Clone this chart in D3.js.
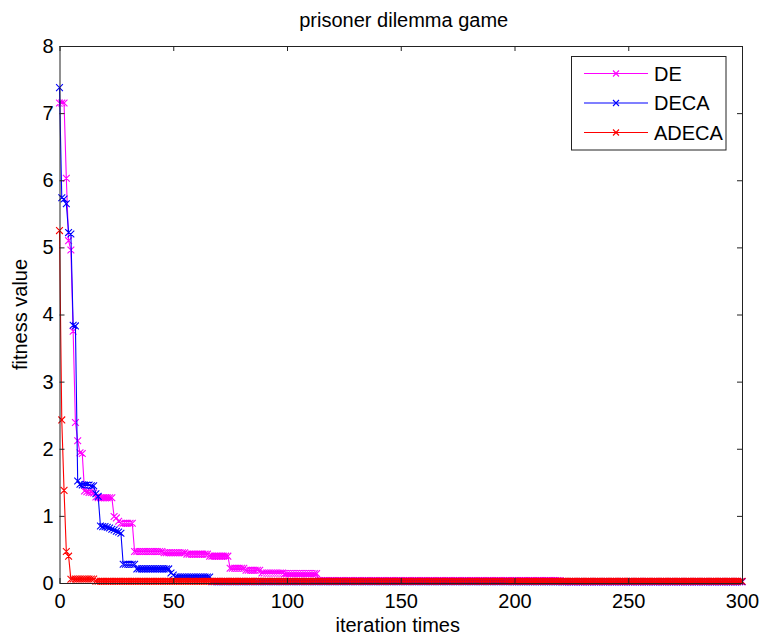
<!DOCTYPE html>
<html>
<head>
<meta charset="utf-8">
<script src="https://cdn.jsdelivr.net/npm/d3@7"></script>
<style>
  body { margin: 0; background: #fff; }
  svg text { font-family: "Liberation Sans", Arial, sans-serif; fill: #000; }
</style>
</head>
<body>
<script>
// series values as [value, how many iterations it holds]
var deRuns = [
  [7.15, 3], [6.03, 1], [5.10, 1], [4.96, 1], [3.75, 1], [2.39, 1], [2.12, 1], [1.94, 1], [1.93, 1],
  [1.37, 1], [1.36, 1], [1.35, 2], [1.34, 1],
  [1.28, 1], [1.27, 7],
  [0.99, 1], [0.97, 1], [0.92, 1], [0.89, 6],
  [0.47, 13], [0.45, 10], [0.43, 10], [0.40, 9],
  [0.22, 7], [0.19, 7], [0.15, 10], [0.14, 15],
  [0.035, 107], [0.02, 80]
];
var decaRuns = [
  [7.38, 1], [5.74, 1], [5.72, 1], [5.65, 1], [5.22, 1], [5.20, 1], [3.84, 1], [3.83, 1],
  [1.52, 1], [1.47, 1], [1.46, 4], [1.45, 2],
  [1.33, 1], [1.29, 1],
  [0.85, 1], [0.84, 2], [0.83, 1], [0.82, 1], [0.80, 1], [0.79, 1], [0.77, 1], [0.76, 1], [0.74, 1],
  [0.28, 6], [0.21, 15], [0.15, 1], [0.12, 1], [0.09, 16],
  [0.02, 234]
];
var adecaRuns = [
  [5.25, 1], [2.43, 1], [1.38, 1], [0.47, 1], [0.40, 1], [0.055, 1],
  [0.06, 10], [0.025, 285]
];

var seriesNames = ['DE', 'DECA', 'ADECA'];
var seriesColors = ['#ff00ff', '#0000ff', '#ff0000'];
var xTicks = [0, 50, 100, 150, 200, 250, 300];
var yTicks = [0, 1, 2, 3, 4, 5, 6, 7, 8];

function unrollRuns(runs) {
  var pts = [];
  runs.forEach(function(r) {
    for (var k = 0; k < r[1]; k++) pts.push({ i: pts.length, v: r[0] });
  });
  return pts;
}

var allSeries = [deRuns, decaRuns, adecaRuns].map(function(runs, n) {
  return { name: seriesNames[n], color: seriesColors[n], points: unrollRuns(runs) };
});

var width = 762, height = 635;
var plotL = 59.5, plotR = 742, plotT = 46, plotB = 583;

var svg = d3.select('body').append('svg')
  .attr('width', width)
  .attr('height', height);

var x = d3.scaleLinear().domain([0, 300]).range([plotL, plotR]);
var y = d3.scaleLinear().domain([0, 8]).range([plotB, plotT]);

// data lines and x markers
var line = d3.line()
  .x(function(d) { return x(d.i); })
  .y(function(d) { return y(d.v); });

function crossPath(cx, cy, s) {
  return 'M' + (cx - s) + ',' + (cy - s) + 'L' + (cx + s) + ',' + (cy + s) +
         'M' + (cx - s) + ',' + (cy + s) + 'L' + (cx + s) + ',' + (cy - s);
}

var groups = svg.selectAll('g.series')
  .data(allSeries)
  .enter()
  .append('g')
  .attr('class', 'series');

groups.append('path')
  .attr('d', function(d) { return line(d.points); })
  .attr('fill', 'none')
  .attr('stroke', function(d) { return d.color; })
  .attr('stroke-width', 1.1);

groups.append('path')
  .attr('d', function(d) {
    return d.points.map(function(p) { return crossPath(x(p.i), y(p.v), 3.4); }).join('');
  })
  .attr('fill', 'none')
  .attr('stroke', function(d) { return d.color; })
  .attr('stroke-width', 1.1);

// axes, ticks pointing inward on all four sides
var axisColor = '#222';

var gBottom = svg.append('g')
  .attr('transform', 'translate(0,' + plotB + ')')
  .call(d3.axisBottom(x).tickValues(xTicks).tickSize(-5).tickSizeOuter(0).tickPadding(11));
var gTop = svg.append('g')
  .attr('transform', 'translate(0,' + plotT + ')')
  .call(d3.axisTop(x).tickValues(xTicks).tickSize(-5).tickSizeOuter(0).tickFormat(''));
var gLeft = svg.append('g')
  .attr('transform', 'translate(' + plotL + ',0)')
  .call(d3.axisLeft(y).tickValues(yTicks).tickSize(-5).tickSizeOuter(0).tickPadding(6));
var gRight = svg.append('g')
  .attr('transform', 'translate(' + plotR + ',0)')
  .call(d3.axisRight(y).tickValues(yTicks).tickSize(-5).tickSizeOuter(0).tickFormat(''));

[gBottom, gTop, gLeft, gRight].forEach(function(g) {
  g.selectAll('path, line').attr('stroke', axisColor);
  g.selectAll('text').style('font-size', '20px').attr('fill', '#000');
});

// titles
svg.append('text')
  .attr('x', (plotL + plotR) / 2 + 3)
  .attr('y', 27)
  .attr('text-anchor', 'middle')
  .style('font-size', '20px')
  .text('prisoner dilemma game');

svg.append('text')
  .attr('x', (plotL + plotR) / 2 - 3)
  .attr('y', 632)
  .attr('text-anchor', 'middle')
  .style('font-size', '20px')
  .text('iteration times');

svg.append('text')
  .attr('transform', 'translate(27,' + ((plotT + plotB) / 2) + ') rotate(-90)')
  .attr('text-anchor', 'middle')
  .style('font-size', '20px')
  .text('fitness value');

// legend
var legend = svg.append('g');
legend.append('rect')
  .attr('x', 571.5).attr('y', 56.5)
  .attr('width', 154.5).attr('height', 93.5)
  .attr('fill', '#fff')
  .attr('stroke', axisColor);

var items = legend.selectAll('g.item')
  .data(allSeries)
  .enter()
  .append('g')
  .attr('class', 'item')
  .attr('transform', function(d, n) { return 'translate(0,' + (73.5 + n * 29.5) + ')'; });

items.append('line')
  .attr('x1', 584).attr('x2', 648)
  .attr('stroke', function(d) { return d.color; })
  .attr('stroke-width', 1.2);
items.append('path')
  .attr('d', crossPath(616, 0, 3))
  .attr('fill', 'none')
  .attr('stroke', function(d) { return d.color; })
  .attr('stroke-width', 1.1);
items.append('text')
  .attr('x', 654)
  .attr('y', 7)
  .style('font-size', '20px')
  .text(function(d) { return d.name; });
</script>
</body>
</html>
